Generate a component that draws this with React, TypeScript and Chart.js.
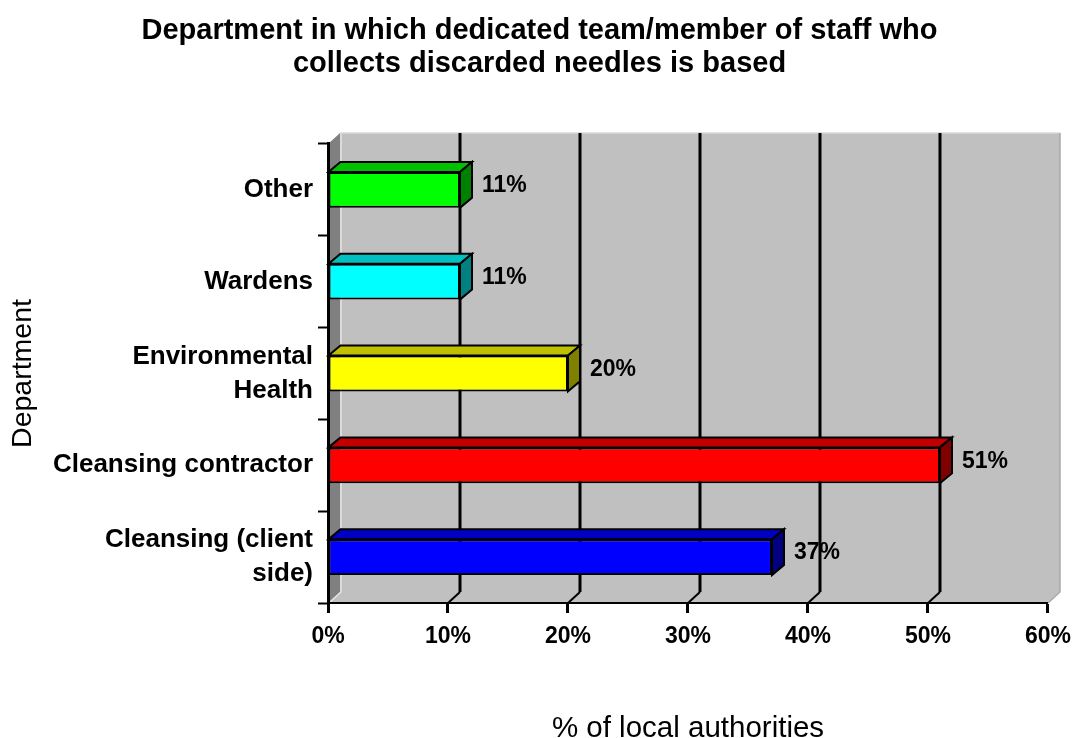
import React, { useEffect, useRef } from 'react';
import { Chart, registerables } from 'chart.js';

Chart.register(...registerables);

const FONT = '"Liberation Sans", Arial, Helvetica, sans-serif';

const titleLines = [
  'Department in which dedicated team/member of staff who',
  'collects discarded needles is based',
];
const categories: (string | string[])[] = [
  'Other',
  'Wardens',
  ['Environmental', 'Health'],
  'Cleansing contractor',
  ['Cleansing (client', 'side)'],
];
const values = [11, 11, 20, 51, 37];
const frontColors = ['#00FF00', '#00FFFF', '#FFFF00', '#FF0000', '#0000FF'];
const topColors = ['#00C000', '#00C0C0', '#C0C000', '#C00000', '#0000C0'];
const sideColors = ['#008000', '#008080', '#808000', '#800000', '#000080'];
const xAxisTitle = '% of local authorities';
const yAxisTitle = 'Department';
const xMin = 0;
const xMax = 60;
const xStep = 10;

const WALL_DX = 12;
const WALL_DY = -11;
const BAR_DX = 12;
const BAR_DY = -10;

function poly(ctx: CanvasRenderingContext2D, pts: number[][]) {
  ctx.beginPath();
  ctx.moveTo(pts[0][0], pts[0][1]);
  for (let i = 1; i < pts.length; i++) ctx.lineTo(pts[i][0], pts[i][1]);
  ctx.closePath();
}

const threeD = {
  id: 'threeD',
  beforeDraw(chart: any) {
    const { ctx, chartArea } = chart;
    const { left, right, top, bottom } = chartArea;
    const xs = chart.scales.x;
    ctx.save();
    // back wall
    ctx.fillStyle = '#C0C0C0';
    ctx.fillRect(left + WALL_DX, top + WALL_DY, right - left, bottom - top);
    // floor
    poly(ctx, [[left, bottom], [left + WALL_DX, bottom + WALL_DY], [right + WALL_DX, bottom + WALL_DY], [right, bottom]]);
    ctx.fillStyle = '#C0C0C0';
    ctx.fill();
    // left wall
    poly(ctx, [[left, top], [left + WALL_DX, top + WALL_DY], [left + WALL_DX, bottom + WALL_DY], [left, bottom]]);
    ctx.fillStyle = '#808080';
    ctx.fill();
    // light edges
    ctx.lineWidth = 1.5;
    ctx.strokeStyle = '#E4E4E4';
    ctx.beginPath();
    ctx.moveTo(left + WALL_DX + 1, top + WALL_DY);
    ctx.lineTo(left + WALL_DX + 1, bottom + WALL_DY);
    ctx.lineTo(left + 1, bottom);
    ctx.stroke();
    ctx.strokeStyle = '#D8D8D8';
    ctx.beginPath();
    ctx.moveTo(left + WALL_DX, top + WALL_DY);
    ctx.lineTo(right + WALL_DX, top + WALL_DY);
    ctx.stroke();
    ctx.strokeStyle = '#A8A8A8';
    ctx.beginPath();
    ctx.moveTo(right + WALL_DX, top + WALL_DY);
    ctx.lineTo(right + WALL_DX, bottom + WALL_DY);
    ctx.lineTo(right, bottom);
    ctx.stroke();
    // gridlines on back wall
    ctx.strokeStyle = '#000';
    xs.ticks.forEach((t: any) => {
      if (t.value <= xMin || t.value >= xMax) return;
      const px = xs.getPixelForValue(t.value);
      ctx.lineWidth = 3;
      ctx.beginPath();
      ctx.moveTo(px + WALL_DX, top + WALL_DY);
      ctx.lineTo(px + WALL_DX, bottom + WALL_DY);
      ctx.stroke();
      ctx.lineWidth = 2;
      ctx.beginPath();
      ctx.moveTo(px + WALL_DX, bottom + WALL_DY);
      ctx.lineTo(px, bottom);
      ctx.stroke();
    });
    ctx.restore();
  },
  afterDatasetsDraw(chart: any) {
    const { ctx } = chart;
    const meta = chart.getDatasetMeta(0);
    ctx.save();
    ctx.lineWidth = 2;
    ctx.strokeStyle = '#000';
    ctx.lineJoin = 'miter';
    meta.data.forEach((el: any, i: number) => {
      const p = el.getProps(['x', 'y', 'base', 'height'], true);
      const t = p.y - p.height / 2;
      const b = p.y + p.height / 2;
      const x0 = p.base;
      const x1 = p.x;
      poly(ctx, [[x0, t], [x0 + BAR_DX, t + BAR_DY], [x1 + BAR_DX, t + BAR_DY], [x1, t]]);
      ctx.fillStyle = topColors[i];
      ctx.fill();
      ctx.stroke();
      poly(ctx, [[x1, t], [x1 + BAR_DX, t + BAR_DY], [x1 + BAR_DX, b + BAR_DY], [x1, b]]);
      ctx.fillStyle = sideColors[i];
      ctx.fill();
      ctx.stroke();
      ctx.fillStyle = '#000';
      ctx.font = `bold 23px ${FONT}`;
      ctx.textAlign = 'left';
      ctx.textBaseline = 'middle';
      ctx.fillText(`${values[i]}%`, x1 + 22, p.y - 4);
    });
    ctx.restore();
  },
};

export default function App() {
  const ref = useRef<HTMLCanvasElement | null>(null);
  useEffect(() => {
    if (!ref.current) return;
    const chart = new Chart(ref.current, {
      type: 'bar',
      data: {
        labels: categories,
        datasets: [
          {
            data: values,
            backgroundColor: frontColors,
            borderColor: '#000',
            borderWidth: 2,
            borderSkipped: false,
            barPercentage: 0.39,
            categoryPercentage: 1,
          },
        ],
      },
      options: {
        indexAxis: 'y',
        animation: false,
        responsive: true,
        maintainAspectRatio: false,
        layout: { padding: { left: 29, right: 29, top: 0, bottom: 0 } },
        plugins: {
          legend: { display: false },
          tooltip: { enabled: false },
          title: {
            display: true,
            text: titleLines,
            color: '#000',
            font: { family: FONT, size: 29, weight: 'bold', lineHeight: 1.12 },
            padding: { top: 15, bottom: 64 },
          },
        },
        scales: {
          x: {
            type: 'linear',
            min: xMin,
            max: xMax,
            ticks: {
              stepSize: xStep,
              callback: (v: any) => `${v}%`,
              color: '#000',
              font: { family: FONT, size: 23, weight: 'bold', lineHeight: 1.35 },
              padding: 8,
              maxRotation: 0,
            },
            grid: {
              display: true,
              drawOnChartArea: false,
              drawTicks: true,
              tickLength: 10,
              tickColor: '#000',
              tickWidth: 3,
              color: '#000',
            },
            border: { display: true, color: '#000', width: 2 },
            title: {
              display: true,
              text: xAxisTitle,
              color: '#000',
              font: { family: FONT, size: 29.5, lineHeight: 1 },
              padding: { top: 0, bottom: -6 },
            },
            afterFit: (s: any) => {
              s.height = 135;
            },
          },
          y: {
            type: 'category',
            ticks: {
              color: '#000',
              font: { family: FONT, size: 26, weight: 'bold', lineHeight: 1.31 },
              padding: 5,
              autoSkip: false,
            },
            grid: {
              display: true,
              drawOnChartArea: false,
              drawTicks: true,
              tickLength: 10,
              tickColor: '#000',
              tickWidth: 2,
              offset: true,
              color: '#000',
            },
            border: { display: true, color: '#000', width: 3 },
            title: {
              display: true,
              text: yAxisTitle,
              color: '#000',
              font: { family: FONT, size: 28.5, lineHeight: 1 },
              padding: { top: -20, bottom: 0 },
            },
            afterFit: (s: any) => {
              s.width = 299;
            },
          },
        },
      } as any,
      plugins: [threeD],
    });
    return () => chart.destroy();
  }, []);
  return (
    <div style={{ position: 'absolute', left: 0, top: 0, width: 1079, height: 738 }}>
      <canvas ref={ref} />
    </div>
  );
}
